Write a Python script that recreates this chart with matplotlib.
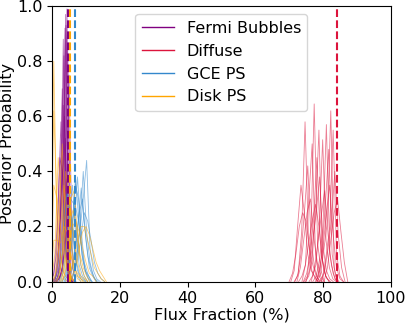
import matplotlib
matplotlib.use("Agg")
import matplotlib.pyplot as plt
from matplotlib.lines import Line2D
import numpy as np

# posterior histograms (1% bins); each curve = first bin centre + per-bin probability
BIN = 1.0

FERMI_X0 = [0.6, 1.0, 1.5, 1.8, 2.0, 2.3, 1.3, 2.6, 0.9, 2.4, 1.7, 3.0, 0.3, 2.1]
FERMI_Y = [
    [0.03, 0.22, 0.58, 0.15, 0.02],
    [0.02, 0.15, 0.70, 0.12, 0.01],
    [0.01, 0.10, 0.82, 0.07],
    [0.02, 0.12, 0.92, 0.05],
    [0.01, 0.05, 0.97, 0.03],
    [0.05, 0.88, 0.07],
    [0.02, 0.20, 0.64, 0.14],
    [0.03, 0.10, 0.85, 0.02],
    [0.01, 0.08, 0.35, 0.52, 0.04],
    [0.02, 0.07, 0.99, 0.02],
    [0.04, 0.30, 0.60, 0.06],
    [0.04, 0.16, 0.75, 0.05],
    [0.02, 0.10, 0.45, 0.38, 0.05],
    [0.01, 0.04, 0.93, 0.02],
]

DIFFUSE_X0 = [72.7, 75.4, 76.9, 78.0, 79.3, 80.0, 71.5, 72.5, 73.3, 75.2,
              76.0, 77.5, 78.7, 80.5, 81.3, 73.8, 75.8, 71.0, 79.0, 74.8]
DIFFUSE_Y = [
    [0.03, 0.18, 0.58, 0.16, 0.04, 0.01],
    [0.02, 0.15, 0.645, 0.14, 0.04],
    [0.02, 0.06, 0.20, 0.515, 0.15, 0.05, 0.01],
    [0.02, 0.08, 0.20, 0.57, 0.10, 0.03],
    [0.03, 0.12, 0.22, 0.62, 0.05],
    [0.02, 0.10, 0.20, 0.55, 0.10, 0.02],
    [0.04, 0.20, 0.35, 0.25, 0.10, 0.04, 0.02],
    [0.02, 0.10, 0.25, 0.42, 0.15, 0.05, 0.01],
    [0.05, 0.15, 0.25, 0.30, 0.16, 0.07, 0.02],
    [0.03, 0.10, 0.22, 0.45, 0.15, 0.04, 0.01],
    [0.04, 0.15, 0.25, 0.38, 0.13, 0.04, 0.01],
    [0.05, 0.14, 0.24, 0.33, 0.17, 0.06, 0.01],
    [0.02, 0.10, 0.28, 0.48, 0.10, 0.02],
    [0.04, 0.12, 0.22, 0.40, 0.17, 0.05],
    [0.05, 0.15, 0.25, 0.30, 0.18, 0.07],
    [0.02, 0.06, 0.30, 0.50, 0.10, 0.02],
    [0.02, 0.08, 0.25, 0.55, 0.08, 0.02],
    [0.03, 0.10, 0.20, 0.25, 0.22, 0.12, 0.06, 0.02],
    [0.05, 0.12, 0.25, 0.35, 0.17, 0.05, 0.01],
    [0.06, 0.14, 0.22, 0.28, 0.20, 0.08, 0.02],
]

GCE_X0 = [6.2, 6.2, 4.5, 3.0, 2.5, 4.0, 5.0, 3.5, 6.5, 2.0, 4.8, 3.8, 5.6, 1.5]
GCE_Y = [
    [0.02, 0.08, 0.18, 0.30, 0.44, 0.12, 0.04, 0.01],
    [0.03, 0.10, 0.20, 0.40, 0.18, 0.07, 0.02],
    [0.02, 0.10, 0.20, 0.38, 0.20, 0.07, 0.03],
    [0.03, 0.12, 0.25, 0.35, 0.17, 0.06, 0.02],
    [0.05, 0.20, 0.33, 0.25, 0.12, 0.04, 0.01],
    [0.02, 0.08, 0.22, 0.37, 0.20, 0.08, 0.03],
    [0.02, 0.06, 0.15, 0.25, 0.30, 0.15, 0.05, 0.02],
    [0.04, 0.15, 0.30, 0.28, 0.15, 0.06, 0.02],
    [0.03, 0.08, 0.16, 0.25, 0.22, 0.15, 0.07, 0.03, 0.01],
    [0.03, 0.10, 0.25, 0.30, 0.20, 0.08, 0.03, 0.01],
    [0.05, 0.14, 0.36, 0.30, 0.10, 0.04, 0.01],
    [0.02, 0.10, 0.20, 0.28, 0.22, 0.12, 0.04, 0.02],
    [0.03, 0.09, 0.20, 0.34, 0.20, 0.09, 0.04, 0.01],
    [0.04, 0.12, 0.28, 0.32, 0.16, 0.06, 0.02],
]

DISK_X0 = [0.5, 0.5, 0.5, 0.8, 1.5, 2.5, 3.2, 4.0, 5.5, 1.0, 2.0, 3.5, 0.5, 6.0]
DISK_Y = [
    [0.80, 0.15, 0.04, 0.01],
    [0.62, 0.25, 0.09, 0.03, 0.01],
    [0.15, 0.15, 0.14, 0.20, 0.18, 0.10, 0.05, 0.02, 0.01],
    [0.10, 0.45, 0.30, 0.10, 0.04, 0.01],
    [0.05, 0.20, 0.35, 0.25, 0.10, 0.04, 0.01],
    [0.05, 0.15, 0.28, 0.27, 0.15, 0.07, 0.02, 0.01],
    [0.03, 0.12, 0.22, 0.26, 0.20, 0.10, 0.05, 0.02],
    [0.04, 0.12, 0.20, 0.22, 0.18, 0.12, 0.07, 0.03, 0.02],
    [0.03, 0.08, 0.15, 0.20, 0.20, 0.15, 0.10, 0.05, 0.03, 0.01],
    [0.03, 0.25, 0.50, 0.17, 0.04, 0.01],
    [0.02, 0.10, 0.40, 0.32, 0.10, 0.04, 0.02],
    [0.02, 0.10, 0.30, 0.33, 0.17, 0.06, 0.02],
    [0.35, 0.30, 0.20, 0.10, 0.04, 0.01],
    [0.02, 0.06, 0.12, 0.18, 0.20, 0.17, 0.12, 0.07, 0.04, 0.02],
]

# true flux fractions (%)
TRUTH = {"Fermi Bubbles": 4.6, "Diffuse": 84.0, "GCE PS": 6.7, "Disk PS": 5.3}

COMPONENTS = [
    ("Fermi Bubbles", FERMI_X0, FERMI_Y, "purple"),
    ("Diffuse", DIFFUSE_X0, DIFFUSE_Y, "crimson"),
    ("GCE PS", GCE_X0, GCE_Y, "#3388cc"),
    ("Disk PS", DISK_X0, DISK_Y, "orange"),
]

plt.rcParams.update({"font.family": "DejaVu Sans", "font.size": 11.5})

fig, ax = plt.subplots(figsize=(4.07, 3.24), dpi=100)
fig.subplots_adjust(left=0.128, right=0.96, bottom=0.131, top=0.981)

for name, x0s, ys, color in COMPONENTS:
    for x0, vals in zip(x0s, ys):
        vals = np.r_[0.0, vals, 0.0]
        xs = x0 - BIN + BIN * np.arange(len(vals))
        ax.plot(xs, vals, color=color, lw=0.6, alpha=0.55)

for name, _, _, color in COMPONENTS:
    ax.axvline(TRUTH[name], color=color, ls="--", lw=1.5)

handles = [Line2D([], [], color=c, lw=1.0) for _, _, _, c in COMPONENTS]
ax.legend(handles, [n for n, _, _, _ in COMPONENTS], loc="upper center")

ax.set_xlim(0, 100)
ax.set_ylim(0, 1)
ax.set_xlabel("Flux Fraction (%)", labelpad=1)
ax.set_ylabel("Posterior Probability", labelpad=1)

fig.savefig("out.png", dpi=100)
